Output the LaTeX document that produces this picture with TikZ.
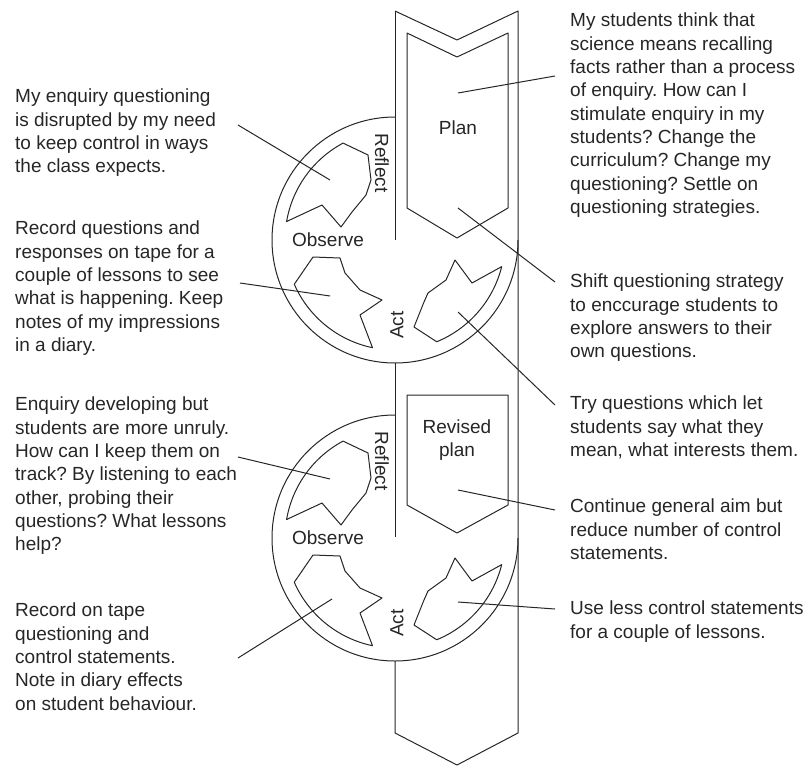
\documentclass[tikz,border=0pt]{standalone}
\usepackage{fontspec}
\setmainfont{Liberation Sans}
\usetikzlibrary{calc}
\newcommand\notesize{\fontsize{19}{23.3}\selectfont}
\frenchspacing

\begin{document}
\begin{tikzpicture}[x=1pt, y=-1pt,
    line/.style={draw=black!85,%
      line width=1pt,%
      line join=round},
    note/.style={anchor=north west,
      align=left,
      inner sep=0pt,
      font=\notesize,
      text=black!85},
    lab/.style={inner sep=0pt,
      align=center,
      font=\notesize,
      text=black!85}
    ]
    \useasboundingbox (0,0) rectangle (808,768);
    \draw[line] (395,11) -- (457,40) -- (518,11) -- (518,733) -- (457,765) -- (395,733) -- (395,661);
    \draw[line] (395,11) -- (395,240);
    \draw[line] (395,363) -- (395,537);
    \draw[line] (407,33) -- (457,57) -- (508,33) -- (508,208) -- (457,238) -- (407,208) -- cycle;
    \draw[line] (407,395) -- (508,395) -- (508,505) -- (457,533) -- (407,505) -- cycle;
    \node[lab] (plan) at (458,128) {Plan};
    \node[lab] (revplan) at (457,440) {Revised\\plan};
    \foreach \c/\dy in {1/0,2/298} {
      \begin{scope}[shift={(0,\dy)}]
        \coordinate (c\c) at (395,240);
        \draw[line] (395,117) arc[start angle=270, end angle=0, radius=123];
        \draw[line] (286.6,221.5) arc[start angle=189.7, end angle=241.8, radius=110]
          -- (368,155) -- (371,180) -- (366,195) -- (352,212) -- (341,227) -- (322,205) -- cycle;
        \draw[line] (372.5,347.7) arc[start angle=101.8, end angle=156.3, radius=110]
          -- (313,257) -- (340,258) -- (345,273) -- (360,290) -- (382,300) -- (360,315) -- cycle;
        \draw[line] (501.7,266.6) arc[start angle=14, end angle=67.7, radius=110]
          -- (414,327) -- (424,302) -- (428,293) -- (446,280) -- (455,260) -- (472,283) -- cycle;
        \node[lab, rotate=-90] (reflect\c) at (382,163) {Reflect};
        \node[lab] (observe\c) at (328,240) {Observe};
        \node[lab, rotate=90] (act\c) at (397,325) {Act};
      \end{scope}
    }
    \node[note] (n1) at (15,89) {My enquiry questioning\\is disrupted by my need\\to keep control in ways\\the class expects.};
    \node[note] (n2) at (15,221) {Record questions and\\responses on tape for a\\couple of lessons to see\\what is happening. Keep\\notes of my impressions\\in a diary.};
    \node[note] (n3) at (15,397) {Enquiry developing but\\students are more unruly.\\How can I keep them on\\track? By listening to each\\other, probing their\\questions? What lessons\\help?};
    \node[note] (n4) at (15,603) {Record on tape\\questioning and\\control statements.\\Note in diary effects\\on student behaviour.};
    \node[note] (m1) at (570,13) {My students think that\\science means recalling\\facts rather than a process\\of enquiry. How can I\\stimulate enquiry in my\\students? Change the\\curriculum? Change my\\questioning? Settle on\\questioning strategies.};
    \node[note] (m2) at (570,274) {Shift questioning strategy\\to enccurage students to\\explore answers to their\\own questions.};
    \node[note] (m3) at (570,396) {Try questions which let\\students say what they\\mean, what interests them.};
    \node[note] (m4) at (570,499) {Continue general aim but\\reduce number of control\\statements.};
    \node[note] (m5) at (570,601) {Use less control statements\\for a couple of lessons.};
    \foreach \i/\tx/\ty/\bx/\by in {1/238/125/330/180,2/240/283/330/296,3/238/457/330/479,4/238/658/332/599,
      5/555/76/458/93,6/555/282/458/208,7/555/405/458/312,8/555/510/458/490,9/555/609/458/602} {
      \coordinate (lt\i) at (\tx,\ty);
      \coordinate (lb\i) at (\bx,\by);
      \draw[line] (lt\i) -- (lb\i);
    }
\end{tikzpicture}
\end{document}
